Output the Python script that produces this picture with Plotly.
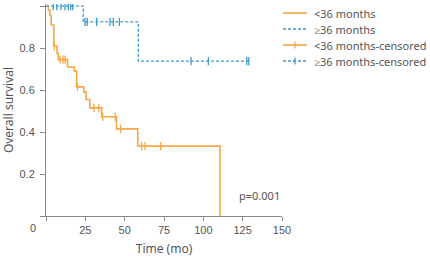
import numpy as np
import plotly.graph_objects as go

# <36 months group: step curve (time in months, survival)
orange_t = [0, 1.5, 2.5, 3.3, 5.0, 7.0, 7.8, 13.7, 18.0, 19.5, 24.0, 25.5, 27.8, 35.4, 44.8, 58.3, 110.6]
orange_s = [1.0, 0.98, 0.955, 0.91, 0.81, 0.775, 0.745, 0.71, 0.69, 0.615, 0.59, 0.555, 0.515, 0.473, 0.415, 0.333, 0.0]
orange_cens_t = [5.3, 8.9, 10.8, 12.1, 20.0, 30.5, 33.5, 36.0, 44.0, 47.5, 60.8, 62.9, 72.9]

# >=36 months group
blue_t = [0, 23.7, 58.7, 129.0]
blue_s = [1.0, 0.925, 0.738, 0.738]
blue_cens_t = [4.6, 6.8, 9.5, 12.1, 14.2, 15.7, 17.0, 24.8, 26.2, 32.2, 40.7, 42.8, 46.6, 92.2, 103.2, 127.6, 128.9]

x_ticks = [0, 25, 50, 75, 100, 125, 150]
y_ticks = [0, 0.2, 0.4, 0.6, 0.8, 1.0]

names = ["<36 months", "≥36 months", "<36 months-censored", "≥36 months-censored"]
p_text = "p=0.001"

ORANGE = "#F5A844"
BLUE = "#3D9BC9"
GRAY = "#555555"
AX = "#8a8a8a"
DASH = "3px,2px"

W, H = 430, 257
ML, MR, MT, MB = 46, 148, 4, 41
PW, PH = W - ML - MR, H - MT - MB


def px2paper(px, py):
    return (px - ML) / PW, (H - MB - py) / PH


def surv_at(times, surv, t):
    idx = np.searchsorted(np.array(times), t, side="right") - 1
    return [surv[i] for i in idx]


fig = go.Figure()
fig.add_trace(go.Scatter(x=orange_t, y=orange_s, mode="lines", line=dict(color=ORANGE, width=1.6, shape="hv"),
                         name=names[0], showlegend=False))
fig.add_trace(go.Scatter(x=blue_t, y=blue_s, mode="lines", line=dict(color=BLUE, width=1.4, shape="hv", dash=DASH),
                         name=names[1], showlegend=False))
fig.add_trace(go.Scatter(x=orange_cens_t, y=surv_at(orange_t, orange_s, orange_cens_t), mode="markers",
                         name=names[2], showlegend=False,
                         marker=dict(symbol="line-ns-open", size=6, color=ORANGE, line=dict(color=ORANGE, width=1.3))))
fig.add_trace(go.Scatter(x=blue_cens_t, y=surv_at(blue_t, blue_s, blue_cens_t), mode="markers",
                         name=names[3], showlegend=False,
                         marker=dict(symbol="line-ns-open", size=6, color=BLUE, line=dict(color=BLUE, width=1.3))))

# manual legend (positioned in pixels, converted to paper coordinates)
leg_rows = [13, 29, 45, 61]
leg_styles = [(ORANGE, None, 1.6, False), (BLUE, DASH, 1.4, False), (ORANGE, None, 1.6, True), (BLUE, DASH, 1.4, True)]
for name, py, (col, dash, w, tick) in zip(names, leg_rows, leg_styles):
    x0, y0 = px2paper(283, py)
    x1, _ = px2paper(307, py)
    fig.add_shape(type="line", xref="paper", yref="paper", x0=x0, x1=x1, y0=y0, y1=y0,
                  line=dict(color=col, width=w, dash=dash))
    if tick:
        xm, ya = px2paper(295, py - 3.5)
        _, yb = px2paper(295, py + 3.5)
        fig.add_shape(type="line", xref="paper", yref="paper", x0=xm, x1=xm, y0=ya, y1=yb,
                      line=dict(color=col, width=1.3))
    tx, ty = px2paper(312, py)
    fig.add_annotation(x=tx, y=ty, xref="paper", yref="paper", text=name, showarrow=False,
                       xanchor="left", yanchor="middle",
                       font=dict(family="Noto Sans", size=11, color=GRAY))

fig.add_annotation(x=136, y=0.1, xref="x", yref="y", text=p_text, showarrow=False,
                   font=dict(family="Noto Sans", size=11, color=GRAY))
ox, oy = px2paper(33, 228)
fig.add_annotation(x=ox, y=oy, xref="paper", yref="paper", text="0", showarrow=False,
                   xanchor="center", yanchor="middle",
                   font=dict(family="Liberation Sans", size=11, color=GRAY))

fig.update_layout(
    width=W, height=H,
    margin=dict(l=ML, r=MR, t=MT, b=MB, autoexpand=False),
    paper_bgcolor="white", plot_bgcolor="white",
    showlegend=False,
    xaxis=dict(range=[0, 150], tickvals=x_ticks, ticktext=["" if v == 0 else str(v) for v in x_ticks],
               showline=True, linecolor=AX, linewidth=1, ticks="outside", ticklen=4, tickcolor=AX,
               showgrid=False, zeroline=False, automargin=False,
               tickfont=dict(family="Liberation Sans", size=11, color=GRAY),
               title=dict(text="Time (mo)", font=dict(family="Noto Sans", size=12, color=GRAY), standoff=9)),
    yaxis=dict(range=[0, 1.01], tickvals=y_ticks, ticktext=["" if v == 0 else f"{v:.1f}" for v in y_ticks],
               showline=True, linecolor=AX, linewidth=1, ticks="outside", ticklen=5, tickcolor=AX,
               ticklabelstandoff=3,
               showgrid=False, zeroline=False, automargin=False,
               tickfont=dict(family="Liberation Sans", size=11, color=GRAY),
               title=dict(text="Overall survival", font=dict(family="Noto Sans", size=12, color=GRAY), standoff=4)),
)
fig.write_html("out.html")
